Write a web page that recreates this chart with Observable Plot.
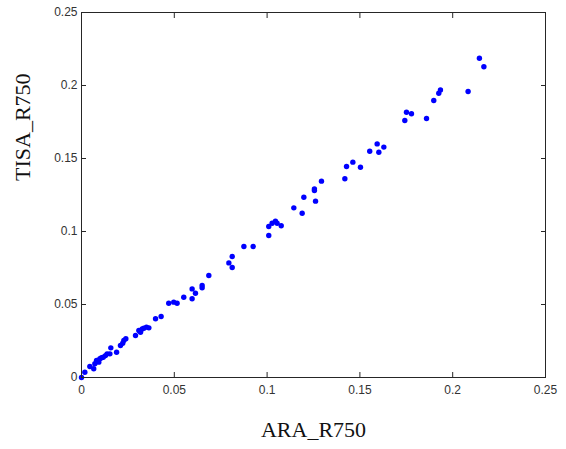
<!DOCTYPE html>
<html>
<head>
<meta charset="utf-8">
<script src="https://cdn.jsdelivr.net/npm/d3@7"></script>
<script src="https://cdn.jsdelivr.net/npm/@observablehq/plot@0.6"></script>
<style>
  html, body { margin: 0; padding: 0; background: #fff; }
  #chart svg { display: block; }
</style>
</head>
<body>
<div id="chart"></div>
<script>
const ara = [0.000, 0.0018, 0.0045, 0.0066, 0.0072, 0.0081, 0.0093, 0.0099, 0.0108, 0.0117, 0.0129, 0.0138, 0.0153, 0.0158, 0.0189,
  0.0210, 0.0222, 0.0228, 0.0239, 0.0291, 0.0309, 0.0318, 0.0327, 0.0336, 0.0350, 0.0363, 0.0399, 0.0429, 0.0470, 0.0497,
  0.0515, 0.0551, 0.0596, 0.0596, 0.0614, 0.0650, 0.0650, 0.0686, 0.0794, 0.0812, 0.0812, 0.0875, 0.0925, 0.1009, 0.1009,
  0.1027, 0.1045, 0.1054, 0.1076, 0.1144, 0.1189, 0.1198, 0.1261, 0.1255, 0.1255, 0.1293, 0.1419, 0.1428, 0.1462, 0.1503,
  0.1553, 0.1593, 0.1602, 0.1629, 0.1742, 0.1751, 0.1778, 0.1859, 0.1898, 0.1925, 0.1934, 0.2083, 0.2144, 0.2168];
const tisa = [0.000, 0.0036, 0.0075, 0.0060, 0.0094, 0.0116, 0.0105, 0.0128, 0.0135, 0.0139, 0.0150, 0.0162, 0.0162, 0.0203, 0.0173,
  0.0219, 0.0235, 0.0253, 0.0265, 0.0288, 0.0322, 0.0310, 0.0333, 0.0338, 0.0345, 0.0340, 0.0402, 0.0418, 0.0509, 0.0516,
  0.0509, 0.0550, 0.0539, 0.0607, 0.0577, 0.0630, 0.0614, 0.0699, 0.0785, 0.0829, 0.0753, 0.0897, 0.0897, 0.0973, 0.1034,
  0.1057, 0.1071, 0.1057, 0.1039, 0.1162, 0.1125, 0.1235, 0.1208, 0.1281, 0.1292, 0.1345, 0.1361, 0.1445, 0.1475, 0.1440,
  0.1550, 0.1600, 0.1543, 0.1578, 0.1760, 0.1817, 0.1806, 0.1774, 0.1897, 0.1947, 0.1970, 0.1959, 0.2187, 0.2128];
const ticks = [0, 0.05, 0.1, 0.15, 0.2, 0.25];
const tickLabels = ["0", "0.05", "0.1", "0.15", "0.2", "0.25"];
const xLabel = "ARA_R750";
const yLabel = "TISA_R750";

const points = ara.map((a, i) => ({ara: a, tisa: tisa[i]}));
const fmt = d => tickLabels[ticks.indexOf(d)] ?? String(d);
const axisColor = "#262626";
const tickFont = {fontFamily: "'Liberation Sans', Arial, sans-serif", fontSize: 12, fill: "#333"};

const chart = Plot.plot({
  width: 566,
  height: 449,
  marginLeft: 81,
  marginRight: 21,
  marginTop: 12,
  marginBottom: 72,
  x: {domain: [0, 0.25]},
  y: {domain: [0, 0.25]},
  style: {background: "#fff", fontFamily: "'Liberation Sans', Arial, sans-serif"},
  marks: [
    Plot.dot(points, {x: "ara", y: "tisa", r: 2.7, fill: "#0000ff", stroke: null}),
    Plot.frame({stroke: axisColor, strokeWidth: 1}),
    Plot.axisX({anchor: "bottom", ticks, tickFormat: fmt, tickSize: -5, tickPadding: 13, stroke: axisColor, ...tickFont, label: null}),
    Plot.axisX({anchor: "top", ticks, tickSize: -5, stroke: axisColor, tickFormat: () => "", label: null}),
    Plot.axisY({anchor: "left", ticks, tickFormat: fmt, tickSize: -5, tickPadding: 9, stroke: axisColor, ...tickFont, label: null}),
    Plot.axisY({anchor: "right", ticks, tickSize: -5, stroke: axisColor, tickFormat: () => "", label: null}),
    Plot.text([xLabel], {frameAnchor: "bottom", dy: 59, text: d => d, fontFamily: "'Liberation Serif', 'Times New Roman', serif", fontSize: 22, fill: "#111"}),
    Plot.text([yLabel], {frameAnchor: "left", dx: -59, dy: -14, rotate: -90, text: d => d, fontFamily: "'Liberation Serif', 'Times New Roman', serif", fontSize: 22, fill: "#111"})
  ]
});
document.getElementById("chart").appendChild(chart);
</script>
</body>
</html>
